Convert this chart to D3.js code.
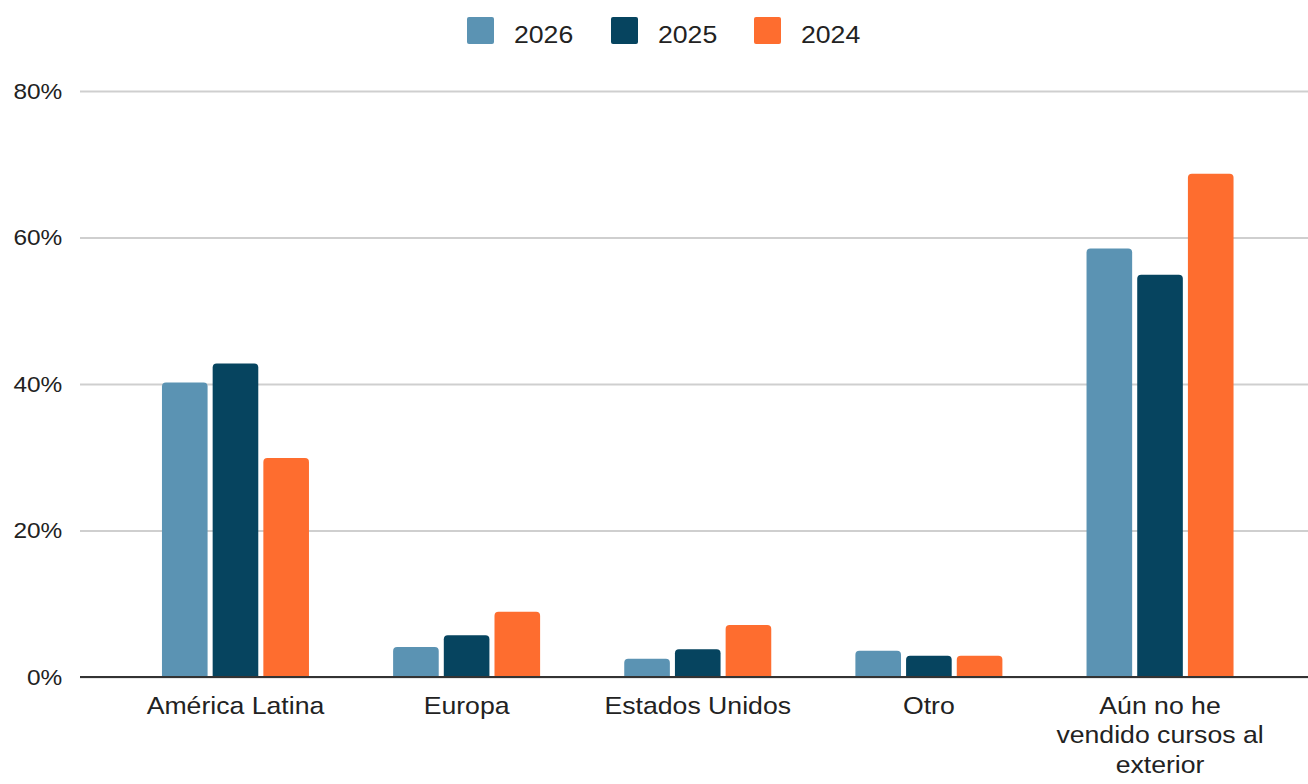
<!DOCTYPE html>
<html>
<head>
<meta charset="utf-8">
<script src="https://cdn.jsdelivr.net/npm/d3@7"></script>
<style>
  html, body { margin: 0; padding: 0; background: #fff; }
  svg { display: block; font-family: "Liberation Sans", Arial, sans-serif; }
</style>
</head>
<body>
<svg id="chart" width="1308" height="784"></svg>
<script>
// Regions where courses were sold, share of respondents per survey year
const categories = ["América Latina", "Europa", "Estados Unidos", "Otro", "Aún no he vendido cursos al exterior"];
const categoryLabels = [
  ["América Latina"],
  ["Europa"],
  ["Estados Unidos"],
  ["Otro"],
  ["Aún no he", "vendido cursos al", "exterior"]
];
const years = ["2026", "2025", "2024"];
const values2026 = [40.2, 4.1, 2.5, 3.6, 58.5];
const values2025 = [42.8, 5.7, 3.8, 2.9, 54.9];
const values2024 = [29.9, 8.9, 7.1, 2.9, 68.7];
const yTicks = [0, 20, 40, 60, 80];
const colors = ["#5b93b3", "#06445f", "#fe6d2f"];

const seriesByYear = { "2026": values2026, "2025": values2025, "2024": values2024 };
const stretch = 1.11;

const svg = d3.select("#chart");

const y = d3.scaleLinear().domain([0, 80]).range([677, 91]);
const x = d3.scaleBand().domain(categories).range([119.9, 1275.6])
  .paddingInner(0.364).paddingOuter(0.182);
const xInner = d3.scaleBand().domain(years).range([0, x.bandwidth()]).paddingInner(0.1);
const color = d3.scaleOrdinal().domain(years).range(colors);

// Gridlines and value labels
const yAxis = d3.axisLeft(y).tickValues(yTicks).tickFormat(d => d + "%")
  .tickSize(-(1308 - 80)).tickPadding(16);
const gy = svg.append("g").attr("transform", "translate(80,0)").call(yAxis);
gy.select(".domain").remove();
gy.selectAll(".tick line").attr("stroke", "#cfcfcf").attr("stroke-width", 2);
gy.selectAll(".tick text")
  .attr("fill", "#222")
  .style("font-size", "22px")
  .style("font-family", "'Liberation Sans', Arial, sans-serif")
  .attr("transform", `scale(${stretch},1)`);

// Bars with rounded top corners
function topRounded(x0, y0, w, h, r) {
  r = Math.min(r, w / 2, h);
  return `M${x0},${y0 + h}V${y0 + r}Q${x0},${y0} ${x0 + r},${y0}` +
         `H${x0 + w - r}Q${x0 + w},${y0} ${x0 + w},${y0 + r}V${y0 + h}Z`;
}

const groups = svg.append("g").selectAll("g")
  .data(categories)
  .join("g")
  .attr("transform", d => `translate(${x(d)},0)`);

groups.selectAll("path")
  .data((d, i) => years.map(yr => ({ year: yr, value: seriesByYear[yr][i] })))
  .join("path")
  .attr("fill", d => color(d.year))
  .attr("d", d => topRounded(xInner(d.year), y(d.value), xInner.bandwidth(), y(0) - y(d.value), 4));

// Baseline
svg.append("line")
  .attr("x1", 80).attr("x2", 1308)
  .attr("y1", y(0)).attr("y2", y(0))
  .attr("stroke", "#333").attr("stroke-width", 2);

// Category labels
const xl = svg.append("g");
categories.forEach((c, i) => {
  const t = xl.append("text")
    .attr("transform", `translate(${x(c) + x.bandwidth() / 2},714) scale(${stretch},1)`)
    .attr("text-anchor", "middle")
    .attr("fill", "#222")
    .style("font-size", "24px");
  categoryLabels[i].forEach((line, j) => {
    t.append("tspan").attr("x", 0).attr("y", j * 29.5).text(line);
  });
});

// Legend
const legendX = [467, 611, 754];
const legend = svg.append("g");
years.forEach((yr, i) => {
  legend.append("rect")
    .attr("x", legendX[i]).attr("y", 17)
    .attr("width", 27).attr("height", 27).attr("rx", 2)
    .attr("fill", color(yr));
  legend.append("text")
    .attr("transform", `translate(${legendX[i] + 47},43) scale(${stretch},1)`)
    .attr("fill", "#222")
    .style("font-size", "24px")
    .text(yr);
});
</script>
</body>
</html>
